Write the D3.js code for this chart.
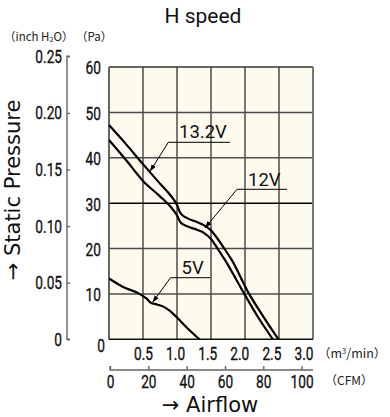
<!DOCTYPE html>
<html><head><meta charset="utf-8">
<script src="https://cdn.jsdelivr.net/npm/d3@7"></script>
<style>
html,body{margin:0;padding:0;background:#fff;}
svg{display:block;}
</style></head>
<body>
<svg id="c" width="390" height="417"></svg>
<script>
// ---- data ----
const titleText = "H speed";
const flow132 = [0, 0.25, 0.5, 0.75, 0.9, 1.0, 1.05, 1.15, 1.3, 1.4, 1.5, 1.6, 1.7, 1.8, 2.06, 2.26, 2.49];
const pres132 = [47.2, 43.0, 38.6, 34.3, 31.8, 29.6, 27.8, 26.7, 25.8, 25.1, 24.0, 22.1, 19.9, 17.6, 10, 5.2, 0];
const flow12 = [0, 0.25, 0.5, 0.75, 0.9, 1.0, 1.05, 1.15, 1.3, 1.4, 1.5, 1.6, 1.7, 1.99, 2.2, 2.41];
const pres12 = [43.9, 39.5, 34.9, 31.5, 29.3, 27.3, 25.8, 24.9, 24.1, 23.4, 22.1, 19.9, 17.6, 10, 4.7, 0];
const flow5 = [0, 0.2, 0.45, 0.55, 0.62, 0.7, 0.8, 0.9, 1.0, 1.15, 1.33];
const pres5 = [13.4, 11.6, 10.0, 9.0, 8.0, 7.7, 7.2, 6.2, 4.8, 2.5, 0];
const paTicks = [0, 10, 20, 30, 40, 50, 60];
const inchTicks = [0, 0.05, 0.10, 0.15, 0.20, 0.25];
const m3Ticks = [0.5, 1.0, 1.5, 2.0, 2.5, 3.0];
const cfmTicks = [0, 20, 40, 60, 80, 100];
const gridX = [0.5, 1.0, 1.5, 2.0, 2.5];
const gridY = [10, 20, 30, 40, 50];
const calloutText = ["13.2V", "12V", "5V"];

const svg = d3.select("#c");
const L = 109, R = 313, T = 67, B = 339.3;
const x = d3.scaleLinear().domain([0, 3]).range([L, R]);
// the printed m3/min labels sit slightly compressed to the left of their gridlines
const xLab = d3.scaleLinear().domain([0.5, 3.0]).range([143, 303.5]);
const y = d3.scaleLinear().domain([0, 60]).range([B, T]);
const yIn = d3.scaleLinear().domain([0, 0.25]).range([B, 56.3]);
const xCfm = d3.scaleLinear().domain([0, 3 * 35.3147]).range([L + 1, R]);

const tickFont = "Roboto, sans-serif";
const SX = 0.72, TFS = 19;
function narrow(sel) {
  sel.each(function () {
    const t = d3.select(this);
    const xv = +t.attr("x") || 0;
    t.attr("x", 0).attr("transform", `translate(${xv},0) scale(${SX},1)`)
      .attr("stroke", "#111").attr("stroke-width", 0.35);
  });
}

// title
svg.append("text").attr("x", 203).attr("y", 23).attr("text-anchor", "middle")
  .attr("font-family", "Roboto, sans-serif").attr("font-size", 21).attr("fill", "#111").text(titleText);

// plot background
svg.append("rect").attr("x", L).attr("y", T).attr("width", R - L).attr("height", B - T).attr("fill", "#fdfaee");

// grid
const g = svg.append("g");
g.selectAll("line.gx").data(gridX).join("line")
  .attr("x1", d => x(d)).attr("x2", d => x(d)).attr("y1", T).attr("y2", B)
  .attr("stroke", "#4d4d4d").attr("stroke-width", 1.5);
g.selectAll("line.gy").data(gridY).join("line")
  .attr("x1", L).attr("x2", R).attr("y1", d => y(d)).attr("y2", d => y(d))
  .attr("stroke", d => d === 30 ? "#000" : "#4d4d4d").attr("stroke-width", 1.5);
g.append("line").attr("x1", L).attr("x2", R).attr("y1", T).attr("y2", T).attr("stroke", "#333").attr("stroke-width", 1.5);
g.append("line").attr("x1", R).attr("x2", R).attr("y1", T).attr("y2", B).attr("stroke", "#777").attr("stroke-width", 2);
g.append("line").attr("x1", L).attr("x2", L).attr("y1", T).attr("y2", B).attr("stroke", "#555").attr("stroke-width", 1.8);
g.append("line").attr("x1", L).attr("x2", R).attr("y1", B).attr("y2", B).attr("stroke", "#111").attr("stroke-width", 1.5);

// curves
const line = d3.line().x(d => x(d[0])).y(d => y(d[1])).curve(d3.curveMonotoneX);
const series = [d3.zip(flow132, pres132), d3.zip(flow12, pres12), d3.zip(flow5, pres5)];
svg.append("g").selectAll("path").data(series).join("path")
  .attr("d", line).attr("fill", "none").attr("stroke", "#000").attr("stroke-width", 2.2)
  .attr("stroke-linejoin", "round");

// Pa axis (labels only)
const paAxis = d3.axisLeft(y).tickValues(paTicks).tickSize(0).tickPadding(8).tickFormat(d3.format("d"));
const pa = svg.append("g").attr("transform", `translate(${L},0)`).call(paAxis);
pa.select(".domain").remove();
pa.selectAll("text").attr("font-family", tickFont).attr("font-size", TFS).attr("fill", "#111")
  .attr("dy", d => d === 0 ? "0.62em" : "0.36em");
pa.selectAll(".tick").filter(d => d === 0).select("text").attr("x", -4);
narrow(pa.selectAll("text"));

// inch H2O axis
const inAxis = d3.axisRight(yIn).tickValues(inchTicks).tickSize(3).tickPadding(-8)
  .tickFormat(d => d === 0 ? "0" : d3.format(".2f")(d));
const ia = svg.append("g").attr("transform", `translate(67,0)`).call(inAxis);
ia.select(".domain").attr("d", `M3,${yIn(0.25)}H0V${yIn(0)}H3`).attr("stroke", "#666").attr("stroke-width", 1.4);
ia.selectAll(".tick line").attr("stroke", "#666").attr("stroke-width", 1.4);
ia.selectAll("text").attr("text-anchor", "end").attr("x", -5).attr("font-family", tickFont)
  .attr("font-size", TFS).attr("fill", "#111");
narrow(ia.selectAll("text"));

// m3/min axis (labels only)
const m3Axis = d3.axisBottom(xLab).tickValues(m3Ticks).tickSize(0).tickPadding(7).tickFormat(d3.format(".1f"));
const ma = svg.append("g").attr("transform", `translate(0,${B})`).call(m3Axis);
ma.select(".domain").remove();
ma.selectAll("text").attr("font-family", tickFont).attr("font-size", TFS).attr("fill", "#111");
narrow(ma.selectAll("text"));

// CFM axis
const cfmAxis = d3.axisTop(xCfm).tickValues(cfmTicks).tickSize(4).tickFormat(d3.format("d"));
const ca = svg.append("g").attr("transform", `translate(0,370)`).call(cfmAxis);
ca.select(".domain").attr("d", `M${xCfm(0)},-4V0H${R}`).attr("stroke", "#666").attr("stroke-width", 1.4);
ca.selectAll(".tick line").attr("stroke", "#666").attr("stroke-width", 1.4);
ca.selectAll("text").attr("y", 18.5).attr("dy", "0").attr("font-family", tickFont).attr("font-size", TFS).attr("fill", "#111");
narrow(ca.selectAll("text"));

// unit labels
const cjk = "'Noto Sans CJK JP', sans-serif";
const u1 = svg.append("text").attr("x", 4).attr("y", 41).attr("font-family", cjk).attr("font-size", 11.5).attr("fill", "#222");
u1.append("tspan").text("（inch H");
u1.append("tspan").attr("font-size", 7).attr("dy", 1).text("2");
u1.append("tspan").attr("dy", -1).text("O）");
svg.append("text").attr("x", 76).attr("y", 41).attr("font-family", cjk).attr("font-size", 11.5).attr("fill", "#222").text("（Pa）");
const u3 = svg.append("text").attr("x", 318).attr("y", 358).attr("font-family", cjk).attr("font-size", 12.5).attr("fill", "#222");
u3.append("tspan").text("（m");
u3.append("tspan").attr("font-size", 7.5).attr("dy", -4).text("3");
u3.append("tspan").attr("dy", 4).text("/min）");
svg.append("text").attr("x", 325).attr("y", 385).attr("font-family", cjk).attr("font-size", 12).attr("fill", "#222").text("（CFM）");

// axis titles
const titleFont = "'DejaVu Sans', sans-serif";
svg.append("text").attr("x", 210).attr("y", 412).attr("text-anchor", "middle")
  .attr("font-family", titleFont).attr("font-size", 21).attr("fill", "#111").text("→ Airflow");
svg.append("text").attr("transform", "translate(20,190) rotate(-90)").attr("text-anchor", "middle")
  .attr("font-family", titleFont).attr("font-size", 21).attr("fill", "#111").text("→ Static Pressure");

// callouts
const defs = svg.append("defs");
defs.append("marker").attr("id", "ah").attr("viewBox", "0 0 10 10").attr("refX", 10).attr("refY", 5)
  .attr("markerWidth", 7).attr("markerHeight", 7).attr("orient", "auto-start-reverse")
  .append("path").attr("d", "M0,1.5L10,5L0,8.5Z").attr("fill", "#000");
const callouts = [
  {t: calloutText[0], tx: 179, ty: 138, u0: [168.3, 142.3], u1: [230, 142.3], tip: [150, 171.5]},
  {t: calloutText[1], tx: 248, ty: 185.5, u0: [237, 189.3], u1: [287, 189.3], tip: [205, 228]},
  {t: calloutText[2], tx: 181.5, ty: 274, u0: [170.5, 277.7], u1: [210, 277.7], tip: [152.5, 302.5]}
];
const cg = svg.append("g");
callouts.forEach(c => {
  cg.append("line").attr("x1", c.u0[0]).attr("y1", c.u0[1]).attr("x2", c.u1[0]).attr("y2", c.u1[1])
    .attr("stroke", "#000").attr("stroke-width", 1);
  cg.append("line").attr("x1", c.u0[0]).attr("y1", c.u0[1]).attr("x2", c.tip[0]).attr("y2", c.tip[1])
    .attr("stroke", "#000").attr("stroke-width", 1).attr("marker-end", "url(#ah)");
  cg.append("text").attr("x", c.tx).attr("y", c.ty).attr("font-family", "Roboto, sans-serif").attr("font-size", 18.5)
    .attr("fill", "#111").text(c.t);
});
</script>
</body></html>
